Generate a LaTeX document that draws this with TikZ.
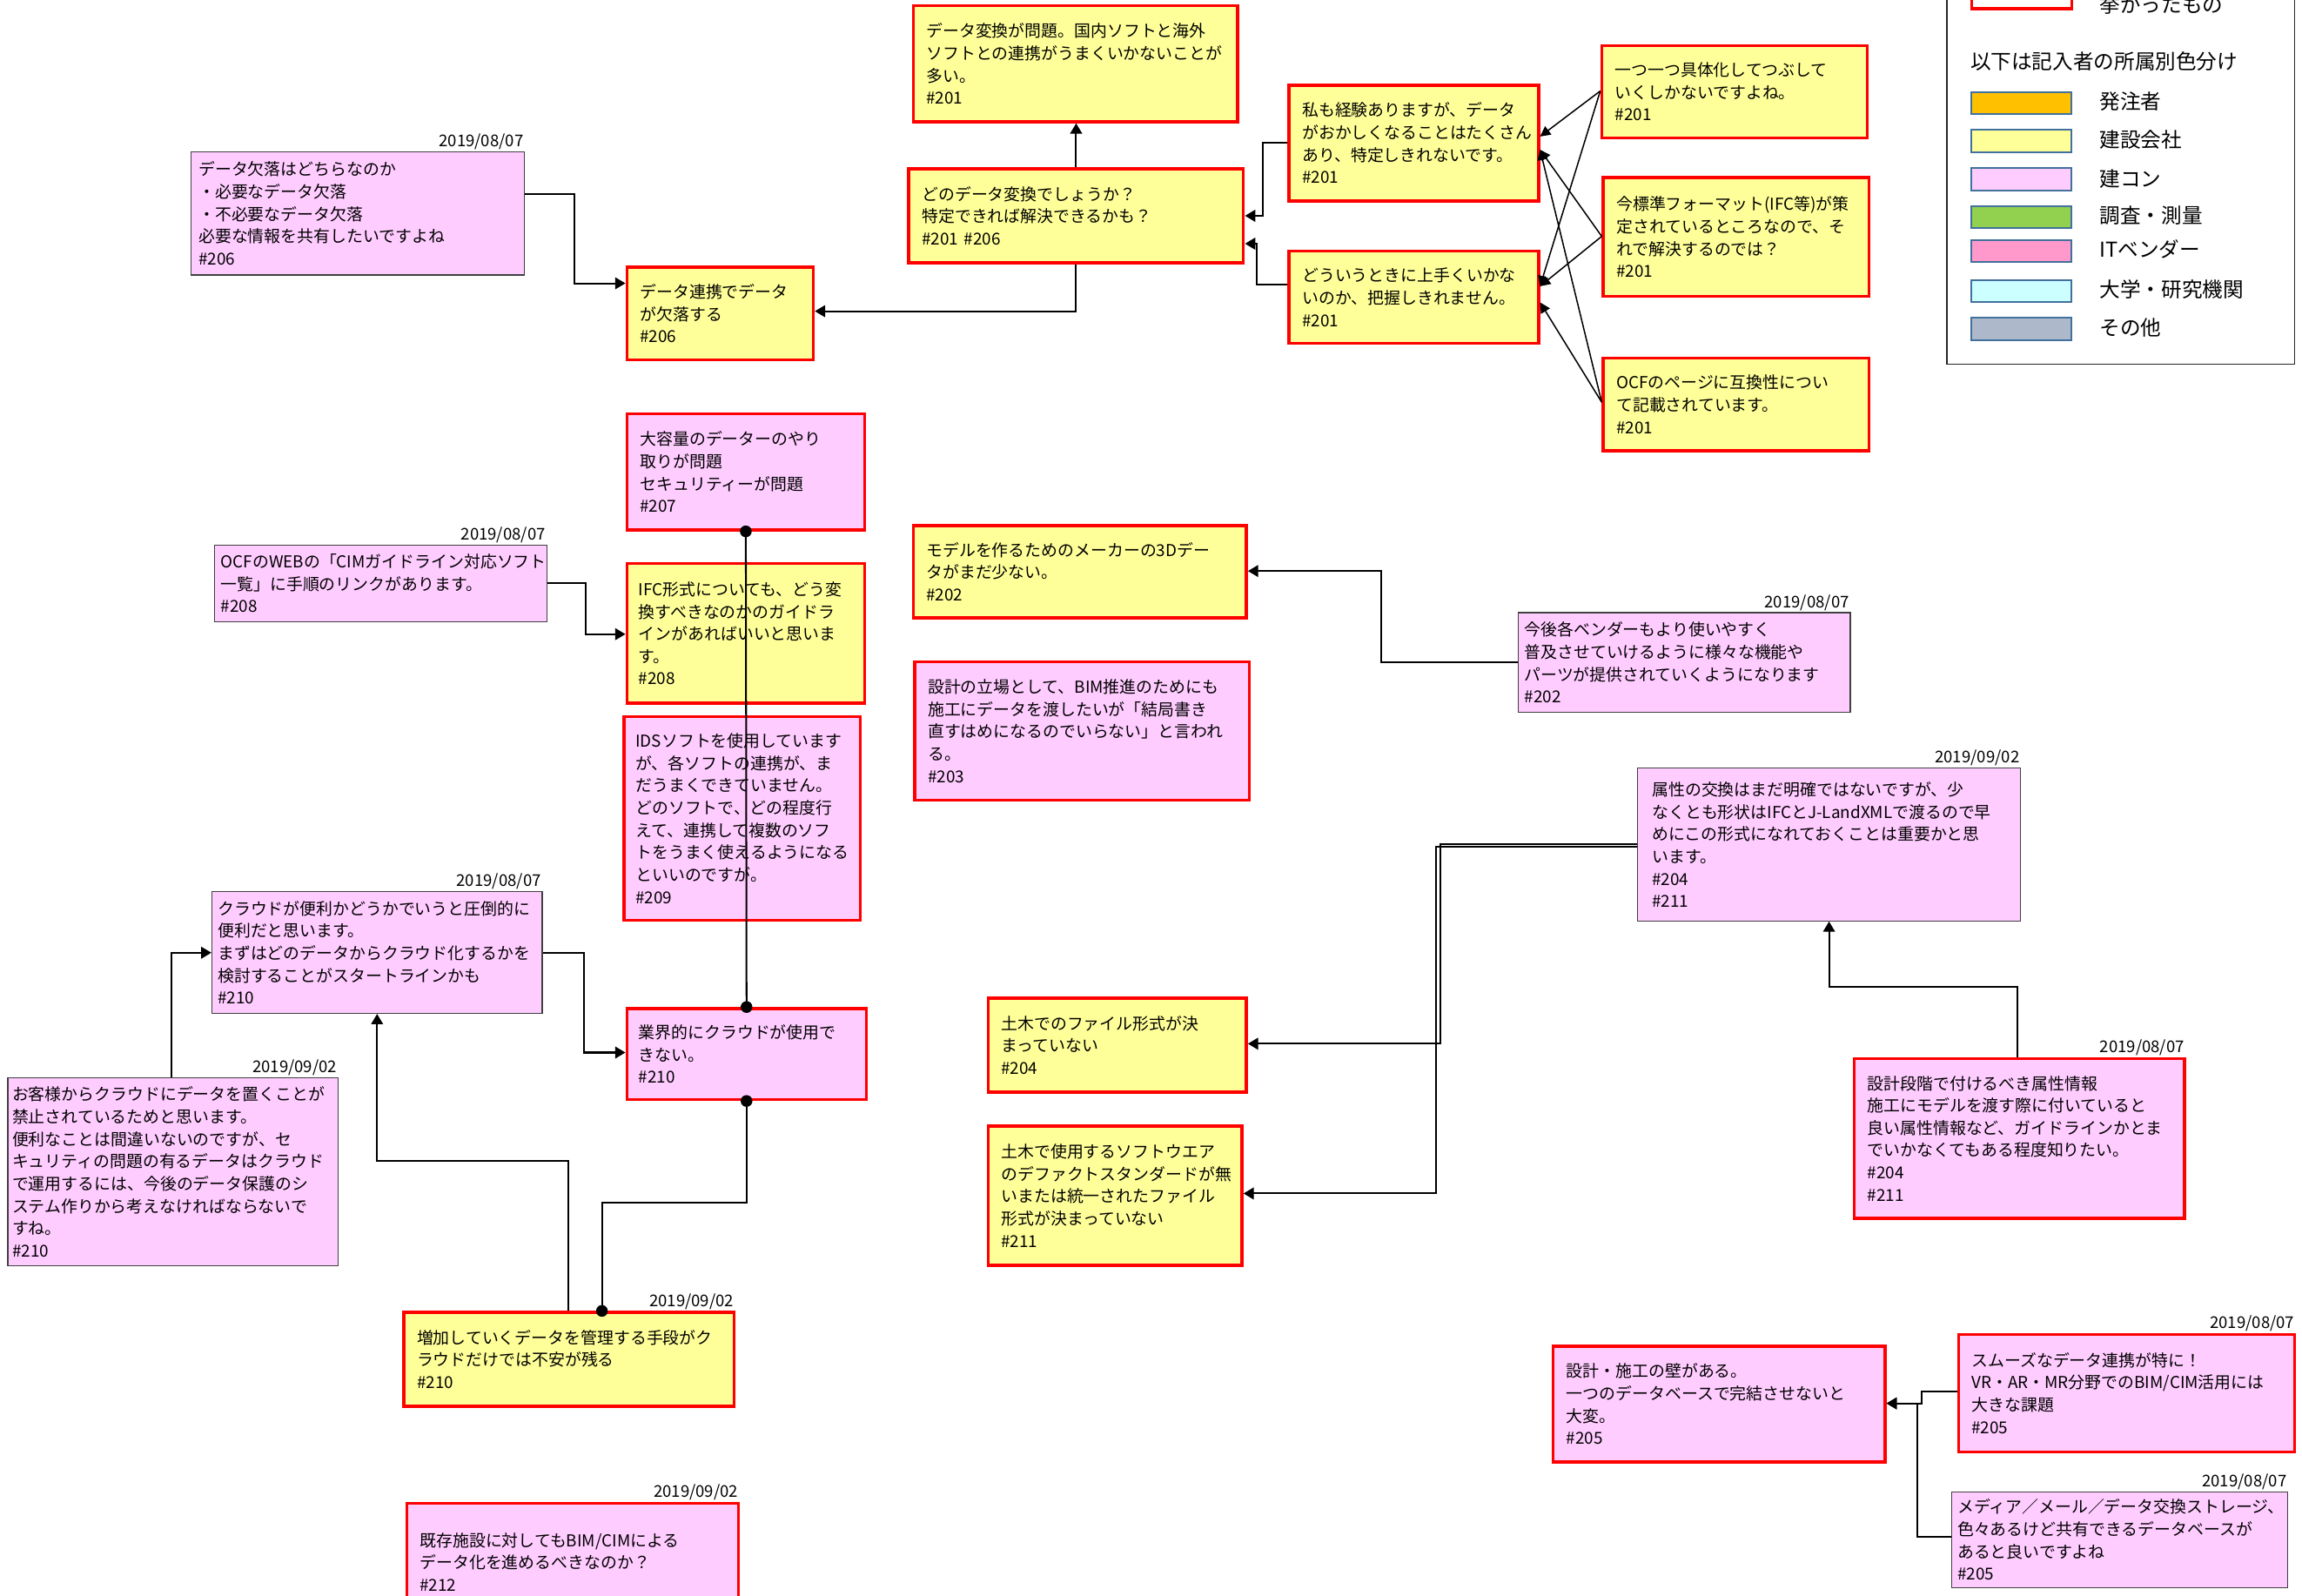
\documentclass[tikz,border=0pt]{standalone}
\usepackage{fontspec}
\setmainfont{Noto Sans CJK JP}
\usetikzlibrary{arrows.meta}
\definecolor{yfill}{HTML}{FFFF99}
\definecolor{pfill}{HTML}{FFCCFF}
\definecolor{redb}{HTML}{FF0000}
\definecolor{thinb}{HTML}{404040}
\definecolor{swb}{HTML}{41719C}
\definecolor{sworange}{HTML}{FFC000}
\definecolor{swgreen}{HTML}{92D050}
\definecolor{swit}{HTML}{FF99CC}
\definecolor{swcyan}{HTML}{CCFFFF}
\definecolor{swgray}{HTML}{ADB9CA}
\tikzset{
  boxbase/.style={rectangle, anchor=north west, align=left, inner ysep=0pt,
    font=\fontsize{11.2}{15.2}\selectfont},
  redY/.style={boxbase, fill=yfill, draw=redb, line width=2pt},
  redP/.style={boxbase, fill=pfill, draw=redb, line width=2pt},
  thinP/.style={boxbase, fill=pfill, draw=thinb, line width=0.7pt},
  datest/.style={anchor=south east, inner sep=1pt, font=\fontsize{11}{13}\selectfont},
  conn/.style={draw, line width=1.2pt, -{Triangle[length=7pt,width=8pt]}},
  fan/.style={draw, line width=0.9pt, -{Triangle[length=7pt,width=7pt]}},
  plain/.style={draw, line width=1.2pt},
  swatch/.style={draw=swb, line width=1.2pt, minimum width=68pt, minimum height=15pt, anchor=north west, inner sep=0pt},
  legtext/.style={anchor=west, inner sep=0pt, font=\fontsize{14}{16}\selectfont},
}
\newcommand\bx[8]{%
  \pgfmathsetlengthmacro\bxtw{#5-2*#7}%
  \node[#2, minimum width=#5pt, minimum height=#6pt, text width=\bxtw, inner xsep=#7pt] (#1) at (#3,#4) {#8};}
\newcommand\dt[3]{\node[datest] (#1) at (#2.north east) {#3};}
\begin{document}
\begin{tikzpicture}[x=1pt,y=-1pt]
\useasboundingbox (0,0) rectangle (1568,1087.2);
\fill[white] (0,0) rectangle (1568,1087.2);
\clip (0,0) rectangle (1568,1087.2);

% ---- top group ----
\bx{A}{redY}{621}{3}{221}{79}{9}{データ変換が問題。国内ソフトと海外\\ソフトとの連携がうまくいかないことが\\多い。\\\#201}
\bx{B}{redY}{618}{114}{228}{64}{9}{どのデータ変換でしょうか？\\特定できれば解決できるかも？\\\#201 \#206}
\bx{C}{redY}{426}{181}{127}{63}{9}{データ連携でデータ\\が欠落する\\\#206}
\bx{D}{thinP}{130}{103}{227}{84}{5}{データ欠落はどちらなのか\\・必要なデータ欠落\\・不必要なデータ欠落\\必要な情報を共有したいですよね\\\#206}
\dt{dD}{D}{2019/08/07}
\bx{E}{redY}{877}{57}{170}{79}{9}{私も経験ありますが、データ\\がおかしくなることはたくさん\\あり、特定しきれないです。\\\#201}
\bx{F}{redY}{877}{170}{170}{63}{9}{どういうときに上手くいかな\\いのか、把握しきれません。\\\#201}
\bx{G}{redY}{1090}{30}{181}{63}{9}{一つ一つ具体化してつぶして\\いくしかないですよね。\\\#201}
\bx{H}{redY}{1091}{120}{181}{81}{9}{今標準フォーマット(IFC等)が策\\定されているところなので、そ\\れで解決するのでは？\\\#201}
\bx{I}{redY}{1091}{243}{181}{63}{9}{OCFのページに互換性につい\\て記載されています。\\\#201}

% ---- middle column ----
\bx{J}{redP}{426}{281}{162}{79}{9}{大容量のデーターのやり\\取りが問題\\セキュリティーが問題\\\#207}
\bx{K}{redY}{426}{383}{162}{95}{8}{IFC形式についても、どう変\\換すべきなのかのガイドラ\\インがあればいいと思いま\\す。\\\#208}
\bx{L}{redP}{424}{487}{161}{139}{8}{IDSソフトを使用しています\\が、各ソフトの連携が、ま\\だうまくできていません。\\どのソフトで、どの程度行\\えて、連携して複数のソフ\\トをうまく使えるようになる\\といいのですが。\\\#209}
\bx{M}{thinP}{146}{371}{226}{52}{4}{OCFのWEBの「CIMガイドライン対応ソフト\\一覧」に手順のリンクがあります。\\\#208}
\dt{dM}{M}{2019/08/07}
\bx{N}{thinP}{144}{607}{225}{83}{4}{クラウドが便利かどうかでいうと圧倒的に\\便利だと思います。\\まずはどのデータからクラウド化するかを\\検討することがスタートラインかも\\\#210}
\dt{dN}{N}{2019/08/07}
\bx{O}{redP}{426}{686}{163}{62}{8}{業界的にクラウドが使用で\\きない。\\\#210}
\bx{P}{thinP}{5}{734}{225}{128}{3}{お客様からクラウドにデータを置くことが\\禁止されているためと思います。\\便利なことは間違いないのですが、セ\\キュリティの問題の有るデータはクラウド\\で運用するには、今後のデータ保護のシ\\ステム作りから考えなければならないで\\すね。\\\#210}
\dt{dP}{P}{2019/09/02}
\bx{Q}{redY}{274}{893}{225}{64}{9}{増加していくデータを管理する手段がク\\ラウドだけでは不安が残る\\\#210}
\dt{dQ}{Q}{2019/09/02}
\bx{R}{redP}{276}{1023}{226}{80}{9}{既存施設に対してもBIM/CIMによる\\データ化を進めるべきなのか？\\\#212}
\dt{dR}{R}{2019/09/02}

% ---- centre right ----
\bx{S}{redY}{621}{357}{227}{63}{9}{モデルを作るためのメーカーの3Dデー\\タがまだ少ない。\\\#202}
\bx{T}{redP}{622}{450}{228}{94}{9}{設計の立場として、BIM推進のためにも\\施工にデータを渡したいが「結局書き\\直すはめになるのでいらない」と言われ\\る。\\\#203}
\bx{U}{thinP}{1034}{417}{226}{68}{4}{今後各ベンダーもより使いやすく\\普及させていけるように様々な機能や\\パーツが提供されていくようになります\\\#202}
\dt{dU}{U}{2019/08/07}
\bx{V}{redY}{672}{679}{176}{64}{9}{土木でのファイル形式が決\\まっていない\\\#204}
\bx{W}{redY}{672}{766}{173}{95}{9}{土木で使用するソフトウエア\\のデファクトスタンダードが無\\いまたは統一されたファイル\\形式が決まっていない\\\#211}
\bx{X}{thinP}{1115}{523}{261}{104}{10}{属性の交換はまだ明確ではないですが、少\\なくとも形状はIFCとJ-LandXMLで渡るので早\\めにこの形式になれておくことは重要かと思\\います。\\\#204\\\#211}
\dt{dX}{X}{2019/09/02}
\bx{Y}{redP}{1262}{720}{225}{109}{9}{設計段階で付けるべき属性情報\\施工にモデルを渡す際に付いていると\\良い属性情報など、ガイドラインかとま\\でいかなくてもある程度知りたい。\\\#204\\\#211}
\dt{dY}{Y}{2019/08/07}

% ---- bottom right ----
\bx{Z}{redP}{1057}{916}{226}{79}{9}{設計・施工の壁がある。\\一つのデータベースで完結させないと\\大変。\\\#205}
\bx{AA}{redP}{1333}{908}{229}{80}{9}{スムーズなデータ連携が特に！\\VR・AR・MR分野でのBIM/CIM活用には\\大きな課題\\\#205}
\dt{dAA}{AA}{2019/08/07}
\bx{AB}{thinP}{1329}{1016}{229}{65}{4}{メディア／メール／データ交換ストレージ、\\色々あるけど共有できるデータベースが\\あると良いですよね\\\#205}
\dt{dAB}{AB}{2019/08/07}

% ---- legend ----
\draw[line width=1pt, draw=black!85] (1326,-10) rectangle (1563,248);
\node[swatch, draw=redb, line width=2pt, fill=white] (lg0) at (1342,-10) {};
\node[legtext] (lt0) at (1430,3) {挙がったもの};
\node[legtext] (lhead) at (1342,42) {以下は記入者の所属別色分け};
\node[swatch, fill=sworange] (s1) at (1342,62) {};
\node[legtext] (t1) at (1430,69) {発注者};
\node[swatch, fill=yfill] (s2) at (1342,88) {};
\node[legtext] (t2) at (1430,95) {建設会社};
\node[swatch, fill=pfill] (s3) at (1342,114) {};
\node[legtext] (t3) at (1430,122) {建コン};
\node[swatch, fill=swgreen] (s4) at (1342,140) {};
\node[legtext] (t4) at (1430,147) {調査・測量};
\node[swatch, fill=swit] (s5) at (1342,163) {};
\node[legtext] (t5) at (1430,170) {ITベンダー};
\node[swatch, fill=swcyan] (s6) at (1342,190) {};
\node[legtext] (t6) at (1430,197) {大学・研究機関};
\node[swatch, fill=swgray] (s7) at (1342,216) {};
\node[legtext] (t7) at (1430,223) {その他};

% ---- connectors ----
\draw[conn] (D.east |- 0,132) -- (391,132) -- (391,193) -- (C.west |- 0,193);
\draw[conn] (B.south) |- (C.east |- 0,212);
\draw[conn] (B.north) -- (B.north |- A.south);
\draw[conn] (E.west |- 0,97) -- (860,97) -- (860,147) -- (B.east |- 0,147);
\draw[conn] (F.west |- 0,194) -- (856,194) -- (856,166) -- (B.east |- 0,166);
\draw[fan] (G.west |- 0,62) -- (E.east |- 0,93);
\draw[fan] (G.west |- 0,62) -- (F.east |- 0,195);
\draw[fan] (H.west |- 0,161) -- (E.east |- 0,102);
\draw[fan] (H.west |- 0,161) -- (F.east |- 0,195);
\draw[fan] (I.west |- 0,274) -- (E.east |- 0,102);
\draw[fan] (I.west |- 0,274) -- (F.east |- 0,206);

\draw[conn] (M.east |- 0,397) -- (399,397) -- (399,432) -- (K.west |- 0,432);
\draw[plain] (J.south) -- (O.north);
\fill (J.south) circle[radius=4pt];
\fill (O.north) circle[radius=4pt];
\draw[plain] (O.south) -- (O.south |- 0,819) -- (410,819) -- (410,0 |- Q.north);
\fill (O.south) circle[radius=4pt];
\fill (410,0 |- Q.north) circle[radius=4pt];
\draw[conn] (387,0 |- Q.north) -- (387,791) -| (N.south);
\draw[conn] (117,0 |- P.north) |- (N.west |- 0,649);
\draw[conn] (N.east |- 0,649) -- (398,649) -- (398,717) -- (O.west |- 0,717);

\draw[conn] (U.west |- 0,451) -- (941,451) -- (941,389) -- (S.east |- 0,389);
\draw[conn] (X.west |- 0,575) -- (981,575) -- (981,711) -- (V.east |- 0,711);
\draw[conn] (X.west |- 0,577) -- (978,577) -- (978,813) -- (W.east |- 0,813);
\draw[conn] (1374,0 |- Y.north) -- (1374,672) -| (X.south);
\draw[conn] (AA.west |- 0,948) -- (1309,948) -- (1309,956) -- (Z.east |- 0,956);
\draw[conn] (AB.west |- 0,1047) -- (1306,1047) -- (1306,956) -- (Z.east |- 0,956);
\end{tikzpicture}
\end{document}
